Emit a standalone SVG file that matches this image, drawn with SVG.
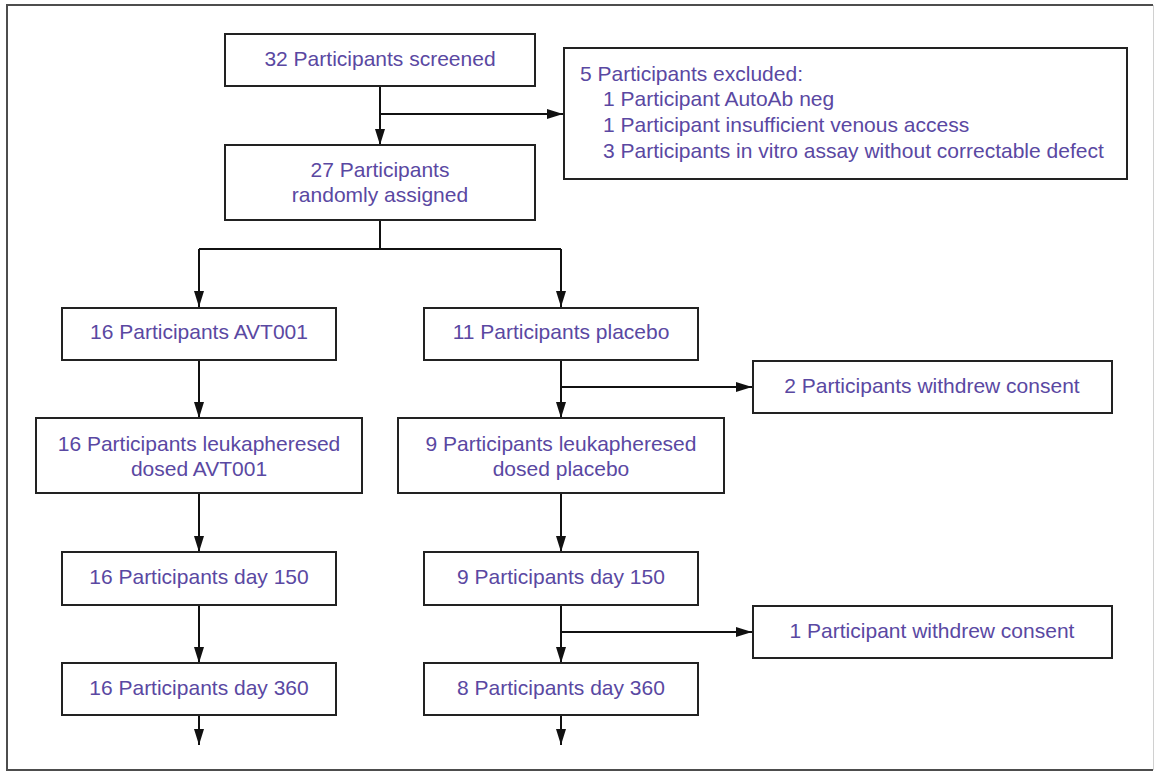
<svg xmlns="http://www.w3.org/2000/svg" width="1155" height="773" viewBox="0 0 1155 773">
<style>
  .box { fill: #ffffff; stroke: #222222; stroke-width: 2; }
  .lbl { font-family: "Liberation Sans", Arial, sans-serif; font-size: 21px; fill: #5a48a2; }
  .c { text-anchor: middle; }
  .conn { fill: none; stroke: #111111; stroke-width: 2; }
</style>
<defs>
  <marker id="arrow" markerUnits="userSpaceOnUse" markerWidth="16" markerHeight="10" refX="16" refY="5" orient="auto">
    <path d="M0,0 L16,5 L0,10 Z" fill="#111111"/>
  </marker>
</defs>
<rect x="0" y="0" width="1155" height="773" fill="#ffffff"/>
<path d="M1153,5 L7,5 L7,770 L1153,770" fill="none" stroke="#4d4d4d" stroke-width="2"/>
<path d="M1153.5,5 L1153.5,770" fill="none" stroke="#d0d0d0" stroke-width="1"/>

<g id="connectors">
  <path class="conn" d="M380,86 L380,145" marker-end="url(#arrow)"/>
  <path class="conn" d="M380,114 L563,114" marker-end="url(#arrow)"/>
  <path class="conn" d="M380,220 L380,249 M199,249 L561,249"/>
  <path class="conn" d="M199,249 L199,307" marker-end="url(#arrow)"/>
  <path class="conn" d="M561,249 L561,307" marker-end="url(#arrow)"/>
  <path class="conn" d="M199,360 L199,418" marker-end="url(#arrow)"/>
  <path class="conn" d="M561,360 L561,418" marker-end="url(#arrow)"/>
  <path class="conn" d="M561,387 L752,387" marker-end="url(#arrow)"/>
  <path class="conn" d="M199,493 L199,552" marker-end="url(#arrow)"/>
  <path class="conn" d="M561,493 L561,552" marker-end="url(#arrow)"/>
  <path class="conn" d="M199,605 L199,663" marker-end="url(#arrow)"/>
  <path class="conn" d="M561,605 L561,663" marker-end="url(#arrow)"/>
  <path class="conn" d="M561,632 L752,632" marker-end="url(#arrow)"/>
  <path class="conn" d="M199,715 L199,745" marker-end="url(#arrow)"/>
  <path class="conn" d="M561,715 L561,745" marker-end="url(#arrow)"/>
</g>

<g id="screened">
  <rect class="box" x="225" y="34" width="310" height="52"/>
  <text class="lbl c" x="380" y="66">32 Participants screened</text>
</g>
<g id="excluded">
  <rect class="box" x="564" y="48" width="563" height="131"/>
  <text class="lbl" x="580" y="81">5 Participants excluded:</text>
  <text class="lbl" x="603" y="106">1 Participant AutoAb neg</text>
  <text class="lbl" x="603" y="132">1 Participant insufficient venous access</text>
  <text class="lbl" x="603" y="158">3 Participants in vitro assay without correctable defect</text>
</g>
<g id="randomized">
  <rect class="box" x="225" y="145" width="310" height="75"/>
  <text class="lbl c" x="380" y="177">27 Participants</text>
  <text class="lbl c" x="380" y="202">randomly assigned</text>
</g>
<g id="avt001">
  <rect class="box" x="62" y="308" width="274" height="52"/>
  <text class="lbl c" x="199" y="339">16 Participants AVT001</text>
</g>
<g id="placebo">
  <rect class="box" x="424" y="308" width="274" height="52"/>
  <text class="lbl c" x="561" y="339">11 Participants placebo</text>
</g>
<g id="withdrew2">
  <rect class="box" x="753" y="361" width="359" height="52"/>
  <text class="lbl c" x="932" y="393">2 Participants withdrew consent</text>
</g>
<g id="leuk-avt001">
  <rect class="box" x="36" y="418" width="326" height="75"/>
  <text class="lbl c" x="199" y="451">16 Participants leukapheresed</text>
  <text class="lbl c" x="199" y="476">dosed AVT001</text>
</g>
<g id="leuk-placebo">
  <rect class="box" x="398" y="418" width="326" height="75"/>
  <text class="lbl c" x="561" y="451">9 Participants leukapheresed</text>
  <text class="lbl c" x="561" y="476">dosed placebo</text>
</g>
<g id="avt-day150">
  <rect class="box" x="62" y="552" width="274" height="53"/>
  <text class="lbl c" x="199" y="584">16 Participants day 150</text>
</g>
<g id="pbo-day150">
  <rect class="box" x="424" y="552" width="274" height="53"/>
  <text class="lbl c" x="561" y="584">9 Participants day 150</text>
</g>
<g id="withdrew1">
  <rect class="box" x="753" y="606" width="359" height="52"/>
  <text class="lbl c" x="932" y="638">1 Participant withdrew consent</text>
</g>
<g id="avt-day360">
  <rect class="box" x="62" y="663" width="274" height="52"/>
  <text class="lbl c" x="199" y="695">16 Participants day 360</text>
</g>
<g id="pbo-day360">
  <rect class="box" x="424" y="663" width="274" height="52"/>
  <text class="lbl c" x="561" y="695">8 Participants day 360</text>
</g>
</svg>
